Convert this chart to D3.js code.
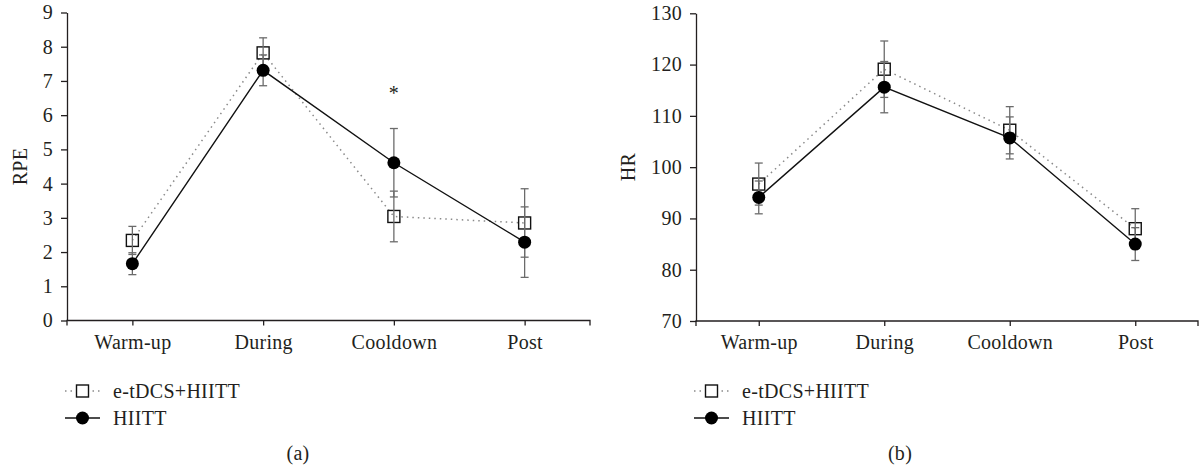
<!DOCTYPE html>
<html>
<head>
<meta charset="utf-8">
<script src="https://cdn.jsdelivr.net/npm/d3@7.9.0/dist/d3.min.js"></script>
<style>
  body { margin: 0; background: #fff; }
  svg { display: block; }
  text { font-family: "Liberation Serif", "Times New Roman", serif; fill: #231f20; letter-spacing: 0.3px; }
</style>
</head>
<body>
<div id="chart"></div>
<script>
// data
const categories = ['Warm-up', 'During', 'Cooldown', 'Post'];

const rpeTdcs = [2.34, 7.82, 3.04, 2.85];
const rpeTdcsErr = [0.41, 0.44, 0.74, 1.0];
const rpeHiitt = [1.66, 7.31, 4.61, 2.29];
const rpeHiittErr = [0.32, 0.45, 1.0, 1.03];

const hrTdcs = [96.7, 119.1, 107.2, 88.0];
const hrTdcsErr = [4.1, 5.5, 4.6, 3.9];
const hrHiitt = [94.1, 115.6, 105.7, 85.0];
const hrHiittErr = [3.2, 5.0, 4.1, 3.2];

const rpeTicks = [0, 1, 2, 3, 4, 5, 6, 7, 8, 9];
const hrTicks = [70, 80, 90, 100, 110, 120, 130];

const seriesNames = ['e-tDCS+HIITT', 'HIITT'];
const rpeStars = [{ cat: 'Cooldown', value: 6.72 }];

const width = 1199;
const height = 468;
const fontSize = '20px';

const svg = d3.select('#chart')
  .append('svg')
  .attr('width', width)
  .attr('height', height);

function drawPanel(opts) {
  const { left, right, top, bottom, domain, ticks, title, titleX, tdcs, tdcsErr, hiitt, hiittErr, label, labelX, legendX, stars } = opts;

  const x = d3.scalePoint().domain(categories).range([left, right]).padding(0.5);
  const y = d3.scaleLinear().domain(domain).range([bottom, top]);

  const g = svg.append('g');

  // axes
  const yAxis = d3.axisLeft(y).tickValues(ticks).tickSize(6).tickSizeOuter(0).tickPadding(8);
  const xAxis = d3.axisBottom(x).tickSize(5).tickSizeOuter(5).tickPadding(9);

  const ya = g.append('g').attr('transform', `translate(${left},0)`).call(yAxis);
  const xa = g.append('g').attr('transform', `translate(0,${bottom})`).call(xAxis);
  // x axis should span the whole plot width
  xa.select('.domain').attr('d', `M${left},5V0H${right}V5`);
  [ya, xa].forEach((a) => {
    a.selectAll('path, line').attr('stroke', '#231f20').attr('stroke-width', 1.3);
    a.selectAll('text').style('font-size', fontSize).attr('fill', '#231f20');
  });

  // axis title
  g.append('text')
    .attr('transform', `translate(${titleX},${(top + bottom) / 2}) rotate(-90)`)
    .attr('text-anchor', 'middle')
    .attr('dominant-baseline', 'central')
    .style('font-size', fontSize)
    .text(title);

  const tdcsPts = categories.map((c, i) => ({ c, v: tdcs[i], e: tdcsErr[i] }));
  const hiittPts = categories.map((c, i) => ({ c, v: hiitt[i], e: hiittErr[i] }));

  const line = d3.line().x((d) => x(d.c)).y((d) => y(d.v));

  g.append('path')
    .datum(tdcsPts)
    .attr('d', line)
    .attr('fill', 'none')
    .attr('stroke', '#8a8a8a')
    .attr('stroke-width', 1.5)
    .attr('stroke-dasharray', '1.5,4');

  g.append('path')
    .datum(hiittPts)
    .attr('d', line)
    .attr('fill', 'none')
    .attr('stroke', '#111')
    .attr('stroke-width', 1.4);

  // squares
  g.selectAll('rect.sq')
    .data(tdcsPts)
    .join('rect')
    .attr('class', 'sq')
    .attr('x', (d) => x(d.c) - 6)
    .attr('y', (d) => y(d.v) - 6)
    .attr('width', 12)
    .attr('height', 12)
    .attr('fill', 'none')
    .attr('stroke', '#111')
    .attr('stroke-width', 1.4);

  // error bars
  const allPts = tdcsPts.concat(hiittPts);
  const eb = g.append('g').attr('stroke', '#6b6b6b').attr('stroke-width', 1.3);
  eb.selectAll('line.v')
    .data(allPts)
    .join('line')
    .attr('x1', (d) => x(d.c)).attr('x2', (d) => x(d.c))
    .attr('y1', (d) => y(d.v - d.e)).attr('y2', (d) => y(d.v + d.e));
  eb.selectAll('line.hi')
    .data(allPts)
    .join('line')
    .attr('x1', (d) => x(d.c) - 4).attr('x2', (d) => x(d.c) + 4)
    .attr('y1', (d) => y(d.v + d.e)).attr('y2', (d) => y(d.v + d.e));
  eb.selectAll('line.lo')
    .data(allPts)
    .join('line')
    .attr('x1', (d) => x(d.c) - 4).attr('x2', (d) => x(d.c) + 4)
    .attr('y1', (d) => y(d.v - d.e)).attr('y2', (d) => y(d.v - d.e));

  // circles
  g.selectAll('circle.ci')
    .data(hiittPts)
    .join('circle')
    .attr('class', 'ci')
    .attr('cx', (d) => x(d.c))
    .attr('cy', (d) => y(d.v))
    .attr('r', 6.5)
    .attr('fill', '#000');

  // significance marks
  g.selectAll('text.star')
    .data(stars)
    .join('text')
    .attr('class', 'star')
    .attr('x', (d) => x(d.cat))
    .attr('y', (d) => y(d.value) + 9)
    .attr('text-anchor', 'middle')
    .style('font-size', fontSize)
    .text('*');

  // legend
  const leg = g.append('g');
  const rows = [391, 418];
  leg.append('line')
    .attr('x1', legendX).attr('x2', legendX + 35)
    .attr('y1', rows[0]).attr('y2', rows[0])
    .attr('stroke', '#8a8a8a').attr('stroke-width', 1.4).attr('stroke-dasharray', '1.5,4');
  leg.append('rect')
    .attr('x', legendX + 11.5).attr('y', rows[0] - 6)
    .attr('width', 12).attr('height', 12)
    .attr('fill', '#fff').attr('stroke', '#111').attr('stroke-width', 1.4);
  leg.append('line')
    .attr('x1', legendX).attr('x2', legendX + 35)
    .attr('y1', rows[1]).attr('y2', rows[1])
    .attr('stroke', '#111').attr('stroke-width', 1.4);
  leg.append('circle')
    .attr('cx', legendX + 17.5).attr('cy', rows[1]).attr('r', 6.5).attr('fill', '#000');
  leg.selectAll('text')
    .data(seriesNames)
    .join('text')
    .attr('x', legendX + 48)
    .attr('y', (d, i) => rows[i])
    .attr('dominant-baseline', 'central')
    .style('font-size', fontSize)
    .text((d) => d);

  // panel label
  g.append('text')
    .attr('x', labelX)
    .attr('y', 453)
    .attr('text-anchor', 'middle')
    .attr('dominant-baseline', 'central')
    .style('font-size', fontSize)
    .text(label);
}

drawPanel({
  left: 67, right: 590, top: 12.5, bottom: 320.5,
  domain: [0, 9], ticks: rpeTicks, title: 'RPE', titleX: 20,
  tdcs: rpeTdcs, tdcsErr: rpeTdcsErr, hiitt: rpeHiitt, hiittErr: rpeHiittErr,
  label: '(a)', labelX: 298, legendX: 65, stars: rpeStars,
});

drawPanel({
  left: 696, right: 1198, top: 13.3, bottom: 321,
  domain: [70, 130], ticks: hrTicks, title: 'HR', titleX: 628,
  tdcs: hrTdcs, tdcsErr: hrTdcsErr, hiitt: hrHiitt, hiittErr: hrHiittErr,
  label: '(b)', labelX: 900, legendX: 694, stars: [],
});
</script>
</body>
</html>
